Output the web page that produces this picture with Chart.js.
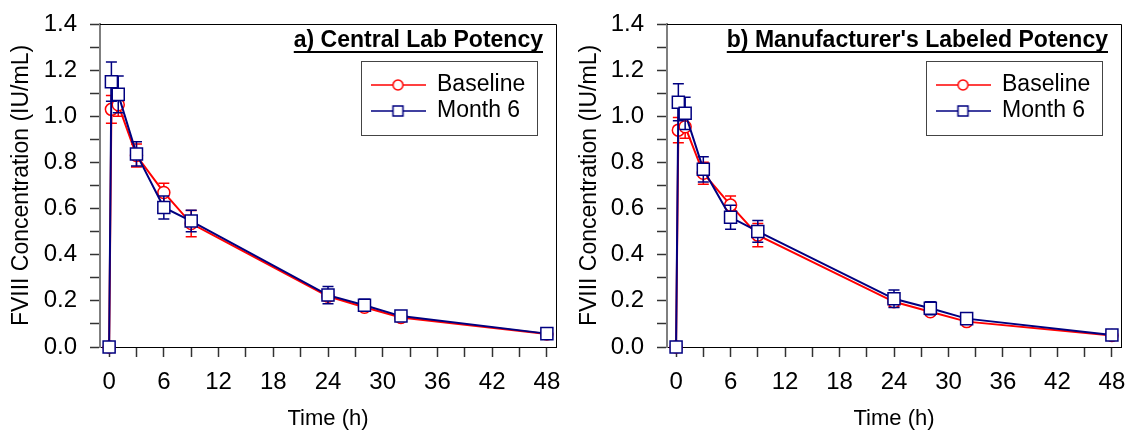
<!DOCTYPE html>
<html><head><meta charset="utf-8">
<script src="https://cdn.jsdelivr.net/npm/chart.js@4/dist/chart.umd.min.js"></script>
<style>
html,body{margin:0;padding:0;background:#fff;}
#wrap{position:relative;width:1131px;height:430px;overflow:hidden;background:#fff;}
.panel{position:absolute;top:0;height:430px;}
#pa{left:0;width:566px;}
#pb{left:566px;width:565px;}
</style></head><body>
<div id="wrap"><div class="panel" id="pa"><canvas id="ca"></canvas></div><div class="panel" id="pb"><canvas id="cb"></canvas></div></div>
<script>
// ---- data ----
const times = [0, 0.25, 1, 3, 6, 9, 24, 28, 32, 48];
const seriesNames = ['Baseline', 'Month 6'];
const panelTitles = ["a) Central Lab Potency", "b) Manufacturer's Labeled Potency"];

const baselineA    = [0, 1.03, 1.05, 0.83, 0.67, 0.535, 0.22, 0.172, 0.128, 0.056];
const baselineA_sd = [0, 0.06, 0.05, 0.05, 0.04, 0.057, 0.02, 0.012, 0.008, 0.004];
const month6A      = [0, 1.15, 1.095, 0.837, 0.605, 0.546, 0.225, 0.181, 0.134, 0.058];
const month6A_sd   = [0, 0.085, 0.08, 0.053, 0.05, 0.047, 0.037, 0.026, 0.01, 0.005];

const baselineB    = [0, 0.94, 0.955, 0.753, 0.615, 0.485, 0.196, 0.153, 0.11, 0.05];
const baselineB_sd = [0, 0.055, 0.05, 0.048, 0.04, 0.05, 0.022, 0.012, 0.008, 0.004];
const month6B      = [0, 1.061, 1.013, 0.77, 0.562, 0.501, 0.209, 0.168, 0.123, 0.052];
const month6B_sd   = [0, 0.08, 0.07, 0.055, 0.052, 0.047, 0.038, 0.028, 0.01, 0.005];

const xTickValues = [0, 3, 6, 9, 12, 15, 18, 21, 24, 27, 30, 33, 36, 39, 42, 45, 48];
const xTickLabels = ['0', '', '6', '', '12', '', '18', '', '24', '', '30', '', '36', '', '42', '', '48'];
const yTickValues = [0, 0.1, 0.2, 0.3, 0.4, 0.5, 0.6, 0.7, 0.8, 0.9, 1.0, 1.1, 1.2, 1.3, 1.4];
const yTickLabels = ['0.0', '', '0.2', '', '0.4', '', '0.6', '', '0.8', '', '1.0', '', '1.2', '', '1.4'];

const xTitle = 'Time (h)';
const yTitle = 'FVIII Concentration (IU/mL)';

// ---- styling ----
const FONT = "'Liberation Sans', Arial, Helvetica, sans-serif";
const RED = '#ff0000';
const NAVY = '#000080';

function makeIcon(color, shape) {
  const c = document.createElement('canvas');
  c.width = 55; c.height = 14;
  const g = c.getContext('2d');
  g.strokeStyle = color; g.lineWidth = 1.5;
  g.beginPath(); g.moveTo(0, 7); g.lineTo(55, 7); g.stroke();
  g.fillStyle = '#fff';
  g.beginPath();
  if (shape === 'circle') g.arc(27.5, 7, 5, 0, Math.PI * 2);
  else g.rect(22.5, 2, 10, 10);
  g.fill(); g.stroke();
  return c;
}
const legendIcons = [makeIcon(RED, 'circle'), makeIcon(NAVY, 'rect')];

const decor = {
  id: 'decor',
  afterLayout(chart, args, o) {
    const L = chart.legend, ca = chart.chartArea;
    if (!L) return;
    const pad = L.options.labels.padding;
    const w = L.width, h = L.height;
    L.left = ca.right - o.legendItemX - pad;
    L.top = ca.top + o.legendItemY - pad;
    L.right = L.left + w;
    L.bottom = L.top + h;
  },
  beforeDatasetDraw(chart, args) {
    const ds = chart.data.datasets[args.index];
    const errs = ds.errorBars;
    if (!errs) return;
    const xs = chart.scales.x, ys = chart.scales.y, ctx = chart.ctx;
    ctx.save();
    ctx.strokeStyle = ds.borderColor;
    ctx.lineWidth = 1.5;
    ds.data.forEach((p, j) => {
      const e = errs[j];
      if (!e) return;
      const x = xs.getPixelForValue(p.x);
      const y1 = ys.getPixelForValue(p.y + e);
      const y2 = ys.getPixelForValue(p.y - e);
      ctx.beginPath();
      ctx.moveTo(x, y1); ctx.lineTo(x, y2);
      ctx.moveTo(x - 5.5, y1); ctx.lineTo(x + 5.5, y1);
      ctx.moveTo(x - 5.5, y2); ctx.lineTo(x + 5.5, y2);
      ctx.stroke();
    });
    ctx.restore();
  },
  afterDraw(chart, args, o) {
    const ctx = chart.ctx, ca = chart.chartArea;
    ctx.save();
    // frame top & right
    ctx.strokeStyle = '#000'; ctx.lineWidth = 1;
    const t = Math.round(ca.top) + 0.5, r = Math.round(ca.right) + 0.5;
    ctx.beginPath();
    ctx.moveTo(ca.left, t); ctx.lineTo(r, t); ctx.lineTo(r, ca.bottom);
    ctx.stroke();
    // legend box
    ctx.strokeStyle = '#444';
    ctx.strokeRect(Math.round(ca.right - o.boxLeft) + 0.5, Math.round(ca.top + o.boxTop) + 0.5,
                   o.boxLeft - o.boxRight, o.boxBottom - o.boxTop);
    // panel title, underlined
    ctx.font = 'bold 23px ' + FONT;
    ctx.fillStyle = '#000';
    ctx.textAlign = 'right';
    ctx.textBaseline = 'middle';
    const tx = ca.right - o.titleRight, ty = ca.top + o.titleY;
    ctx.fillText(o.text, tx, ty);
    const tw = ctx.measureText(o.text).width;
    ctx.fillRect(tx - tw, ca.top + o.titleY + 10, tw, 2);
    ctx.restore();
  }
};

function buildChart(canvasId, title, base, baseSd, m6, m6Sd, yAxisWidth, padRight, yTitleOffset) {
  const mk = (vals) => times.map((t, i) => ({ x: t, y: vals[i] }));
  return new Chart(document.getElementById(canvasId), {
    type: 'line',
    data: {
      datasets: [
        {
          label: seriesNames[0], data: mk(base), errorBars: baseSd,
          borderColor: RED, backgroundColor: '#fff', borderWidth: 2,
          pointStyle: 'circle', pointRadius: 6, pointBorderWidth: 1.5,
          pointBackgroundColor: '#fff', pointBorderColor: RED,
          tension: 0, order: 2, clip: false
        },
        {
          label: seriesNames[1], data: mk(m6), errorBars: m6Sd,
          borderColor: NAVY, backgroundColor: '#fff', borderWidth: 2,
          pointStyle: 'rect', pointRadius: 8.5, pointBorderWidth: 1.5,
          pointBackgroundColor: '#fff', pointBorderColor: NAVY,
          tension: 0, order: 1, clip: false
        }
      ]
    },
    options: {
      responsive: true, maintainAspectRatio: false, animation: false, events: [],
      layout: { padding: { top: 24, right: padRight, bottom: 0, left: 0 } },
      scales: {
        x: {
          type: 'linear', min: -1, max: 49,
          afterBuildTicks: (s) => { s.ticks = xTickValues.map(v => ({ value: v })); },
          afterFit: (s) => { s.height = 83; s.paddingLeft = 0; s.paddingRight = 0; },
          ticks: {
            autoSkip: false, maxRotation: 0, padding: 11, color: '#000',
            font: { family: FONT, size: 24 },
            callback: (v, i) => xTickLabels[i]
          },
          grid: { drawOnChartArea: false, drawTicks: true, tickLength: 10, tickColor: '#333', tickWidth: 1.5 },
          border: { display: true, color: '#000', width: 1 },
          title: { display: true, text: xTitle, color: '#000', font: { family: FONT, size: 22, lineHeight: 1 }, padding: { top: 0, bottom: 0 } }
        },
        y: {
          type: 'linear', min: 0, max: 1.4,
          afterBuildTicks: (s) => { s.ticks = yTickValues.map(v => ({ value: v })); },
          afterFit: (s) => { s.width = yAxisWidth; s.paddingTop = 0; s.paddingBottom = 0; },
          ticks: {
            autoSkip: false, padding: 13, color: '#000',
            font: { family: FONT, size: 24 },
            callback: (v, i) => yTickLabels[i]
          },
          grid: { drawOnChartArea: false, drawTicks: true, tickLength: 10, tickColor: '#333', tickWidth: 1.5 },
          border: { display: true, color: '#7f7f7f', width: 2 },
          title: { display: true, text: yTitle, color: '#000', font: { family: FONT, size: 23, lineHeight: 1 }, padding: { top: yTitleOffset, bottom: 0 } }
        }
      },
      plugins: {
        tooltip: { enabled: false },
        title: { display: false },
        legend: {
          display: true, position: 'chartArea', align: 'start',
          sort: (a, b) => a.datasetIndex - b.datasetIndex,
          labels: {
            usePointStyle: true, pointStyleWidth: 55, padding: 3, color: '#000',
            font: { family: FONT, size: 23 },
            generateLabels: (chart) => chart.data.datasets.map((ds, i) => ({
              text: ds.label, datasetIndex: i, pointStyle: legendIcons[i], rotation: 0,
              hidden: false, lineWidth: 0, strokeStyle: 'rgba(0,0,0,0)', fillStyle: 'rgba(0,0,0,0)', fontColor: '#000'
            }))
          }
        },
        decor: {
          text: title, titleRight: 13, titleY: 17,
          legendItemX: 185.5, legendItemY: 49.5,
          boxLeft: 195, boxRight: 19, boxTop: 37, boxBottom: 111
        }
      }
    },
    plugins: [decor]
  });
}

buildChart('ca', panelTitles[0], baselineA, baselineA_sd, month6A, month6A_sd, 100, 6, 10);
buildChart('cb', panelTitles[1], baselineB, baselineB_sd, month6B, month6B_sd, 101, 4, 12);
</script>
</body></html>
